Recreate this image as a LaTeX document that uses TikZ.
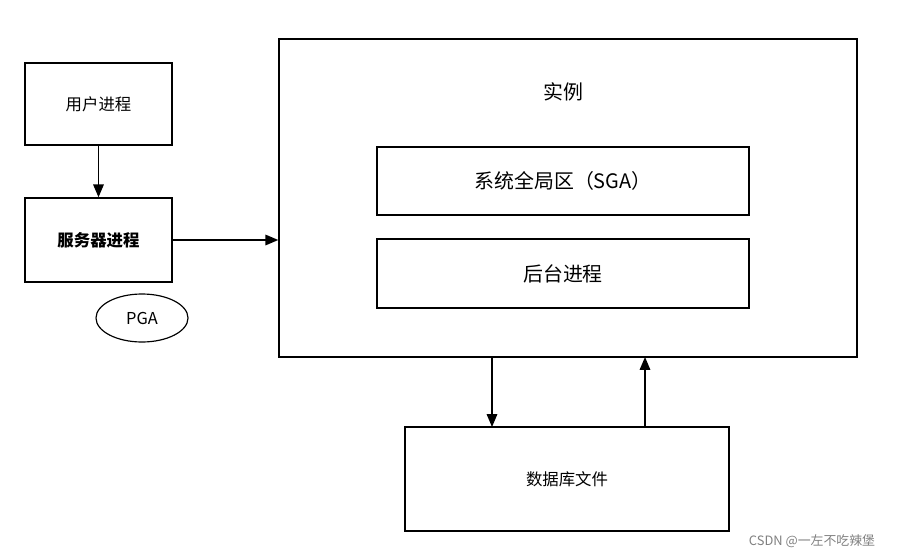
\documentclass[tikz,border=0pt]{standalone}
\usepackage{fontspec}
\setmainfont{Noto Sans CJK SC}
\usetikzlibrary{shapes.geometric, arrows.meta}
\begin{document}
\begin{tikzpicture}[
        x=0.03cm, y=-0.03cm,
        box/.style={draw, line width=1.2pt, inner sep=0pt},
        forward/.style={-{Triangle[length=11pt, width=9pt]}, line width=1.2pt},
        label/.style={font=\fontsize{14}{16}\selectfont}
    ]
        \useasboundingbox (0,0) rectangle (903,559);
        \node[box, minimum width=147*0.03cm, minimum height=82*0.03cm, label] (user) at (98.5,104) {用户进程};
        \node[box, minimum width=147*0.03cm, minimum height=84*0.03cm, label, font=\fontsize{14}{16}\selectfont\bfseries] (server) at (98.5,240) {服务器进程};
        \node[draw, ellipse, line width=1pt, minimum width=92*0.03cm, minimum height=48*0.03cm, label] (pga) at (142,318) {PGA};
        \node[box, minimum width=578*0.03cm, minimum height=318*0.03cm] (inst) at (568,198) {};
        \node[font=\fontsize{17}{20}\selectfont] (title) at (563,92) {实例};
        \node[box, minimum width=372*0.03cm, minimum height=68*0.03cm, font=\fontsize{17}{20}\selectfont] (sga) at (563,181) {系统全局区（SGA）};
        \node[box, minimum width=372*0.03cm, minimum height=69*0.03cm, font=\fontsize{17}{20}\selectfont] (bg) at (563,273.5) {后台进程};
        \node[box, minimum width=324*0.03cm, minimum height=104*0.03cm, label] (db) at (567,479) {数据库文件};
        \draw[forward] (user) -- (server);
        \draw[forward] (server) -- (inst.west |- server);
        \draw[forward] (492,357) -- (492,427);
        \draw[forward] (645,427) -- (645,357);
        \node[text=gray, font=\fontsize{11}{13}\selectfont] (mark) at (812,541) {CSDN @一左不吃辣堡};
    \end{tikzpicture}
\end{document}
